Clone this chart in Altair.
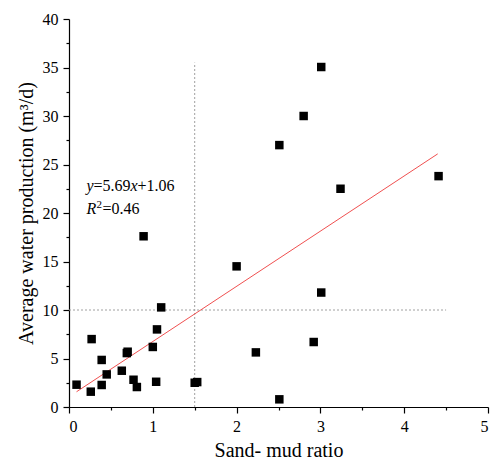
import altair as alt
import pandas as pd

# Data
ratio = [0.09, 0.27, 0.26, 0.39, 0.39, 0.45, 0.63, 0.69, 0.70, 0.77, 0.81, 1.00,
         1.05, 1.04, 1.10, 1.50, 1.53, 2.23, 2.51, 2.92, 0.89, 2.00, 3.01, 3.24,
         4.41, 3.01, 2.80, 2.51]
water = [2.30, 7.00, 1.58, 4.85, 2.27, 3.36, 3.74, 5.56, 5.70, 2.81, 2.06, 6.19,
         8.00, 2.60, 10.27, 2.50, 2.57, 5.63, 0.79, 6.70, 17.6, 14.5, 11.8, 22.5,
         23.8, 35.05, 30.0, 27.0]

slope = 5.69
intercept = 1.06
fit_x = [0.09, 4.40]

x_major = [0, 1, 2, 3, 4, 5]
x_minor = [0.5, 1.5, 2.5, 3.5, 4.5]
y_major = [0, 5, 10, 15, 20, 25, 30, 35, 40]
y_minor = [2.5, 7.5, 12.5, 17.5, 22.5, 27.5, 32.5, 37.5]

vline_x = [1.5]
vline_y = [0, 35.5]
hline_y = [10]
hline_x = [0, 4.5]

FONT = "Liberation Serif"

pts = pd.DataFrame({"ratio": ratio, "water": water})
fit = pd.DataFrame({"x": fit_x, "y": [slope * v + intercept for v in fit_x]})
vl = pd.DataFrame({"x": vline_x, "y": [vline_y[0]], "y2": [vline_y[1]]})
hl = pd.DataFrame({"y": hline_y, "x": [hline_x[0]], "x2": [hline_x[1]]})

xs = alt.Scale(domain=[0, 5], nice=False, zero=False)
ys = alt.Scale(domain=[0, 40], nice=False, zero=False)

common = dict(labelFont=FONT, titleFont=FONT, labelFontSize=16, titleFontSize=20,
              titleFontWeight="normal", labelColor="black", titleColor="black",
              domainColor="black", tickColor="black", domainWidth=1.2, tickWidth=1.2,
              grid=False)

x_axis = alt.Axis(values=x_major, orient="bottom", title="Sand- mud ratio",
                  tickSize=6, labelPadding=5, titlePadding=6, format="d", **common)
y_axis = alt.Axis(values=y_major, orient="left", title="Average water production (m³/d)",
                  tickSize=6, labelPadding=5, titlePadding=6, format="d", **common)

points = alt.Chart(pts).mark_square(size=72, color="black", opacity=1).encode(
    x=alt.X("ratio:Q", scale=xs, axis=x_axis),
    y=alt.Y("water:Q", scale=ys, axis=y_axis),
)

minor = alt.Chart(pts).mark_point(opacity=0).encode(
    x=alt.X("ratio:Q", scale=xs, axis=alt.Axis(values=x_minor, orient="bottom", labels=False,
                                              domain=False, grid=False, tickSize=3,
                                              tickColor="black", tickWidth=1.2, title=None)),
    y=alt.Y("water:Q", scale=ys, axis=alt.Axis(values=y_minor, orient="left", labels=False,
                                              domain=False, grid=False, tickSize=3,
                                              tickColor="black", tickWidth=1.2, title=None)),
)

fit_line = alt.Chart(fit).mark_line(color="#f05050", strokeWidth=1).encode(
    x=alt.X("x:Q", scale=xs, axis=None),
    y=alt.Y("y:Q", scale=ys, axis=None),
)

vrule = alt.Chart(vl).mark_rule(color="#a0a0a0", strokeDash=[2, 2], strokeWidth=1).encode(
    x=alt.X("x:Q", scale=xs, axis=None),
    y=alt.Y("y:Q", scale=ys, axis=None),
    y2="y2:Q",
)
hrule = alt.Chart(hl).mark_rule(color="#a0a0a0", strokeDash=[2, 2], strokeWidth=1).encode(
    y=alt.Y("y:Q", scale=ys, axis=None),
    x=alt.X("x:Q", scale=xs, axis=None),
    x2="x2:Q",
)

# Equation annotation, split so that the variables are italic and 2 is a superscript
ann_x = 0.21
eq_y = 22.3
r_y = 19.9
pieces = [
    ("y", eq_y, 0, 0, "italic", 16),
    ("=5.69", eq_y, 7, 0, "normal", 16),
    ("x", eq_y, 44, 0, "italic", 16),
    ("+1.06", eq_y, 51, 0, "normal", 16),
    ("R", r_y, 0, 0, "italic", 16),
    ("2", r_y, 10, -6, "normal", 11),
    ("=0.46", r_y, 16, 0, "normal", 16),
]
texts = []
for t, yy, dx, dy, style, fs in pieces:
    d = pd.DataFrame({"x": [ann_x], "y": [yy], "t": [t]})
    texts.append(
        alt.Chart(d).mark_text(align="left", baseline="alphabetic", dx=dx, dy=dy, font=FONT,
                               fontSize=fs, fontStyle=style, color="black").encode(
            x=alt.X("x:Q", scale=xs, axis=None),
            y=alt.Y("y:Q", scale=ys, axis=None),
            text="t:N",
        )
    )

chart = alt.layer(vrule, hrule, fit_line, minor, points, *texts).resolve_axis(
    x="independent", y="independent"
).properties(
    width=419, height=388,
    autosize=alt.AutoSizeParams(type="none"),
    padding={"left": 61, "top": 11, "right": 4, "bottom": 54},
).configure_view(stroke=None).configure_axis(labelFont=FONT, titleFont=FONT)

chart.save("out.html", embed_options={"renderer": "svg", "actions": False})
